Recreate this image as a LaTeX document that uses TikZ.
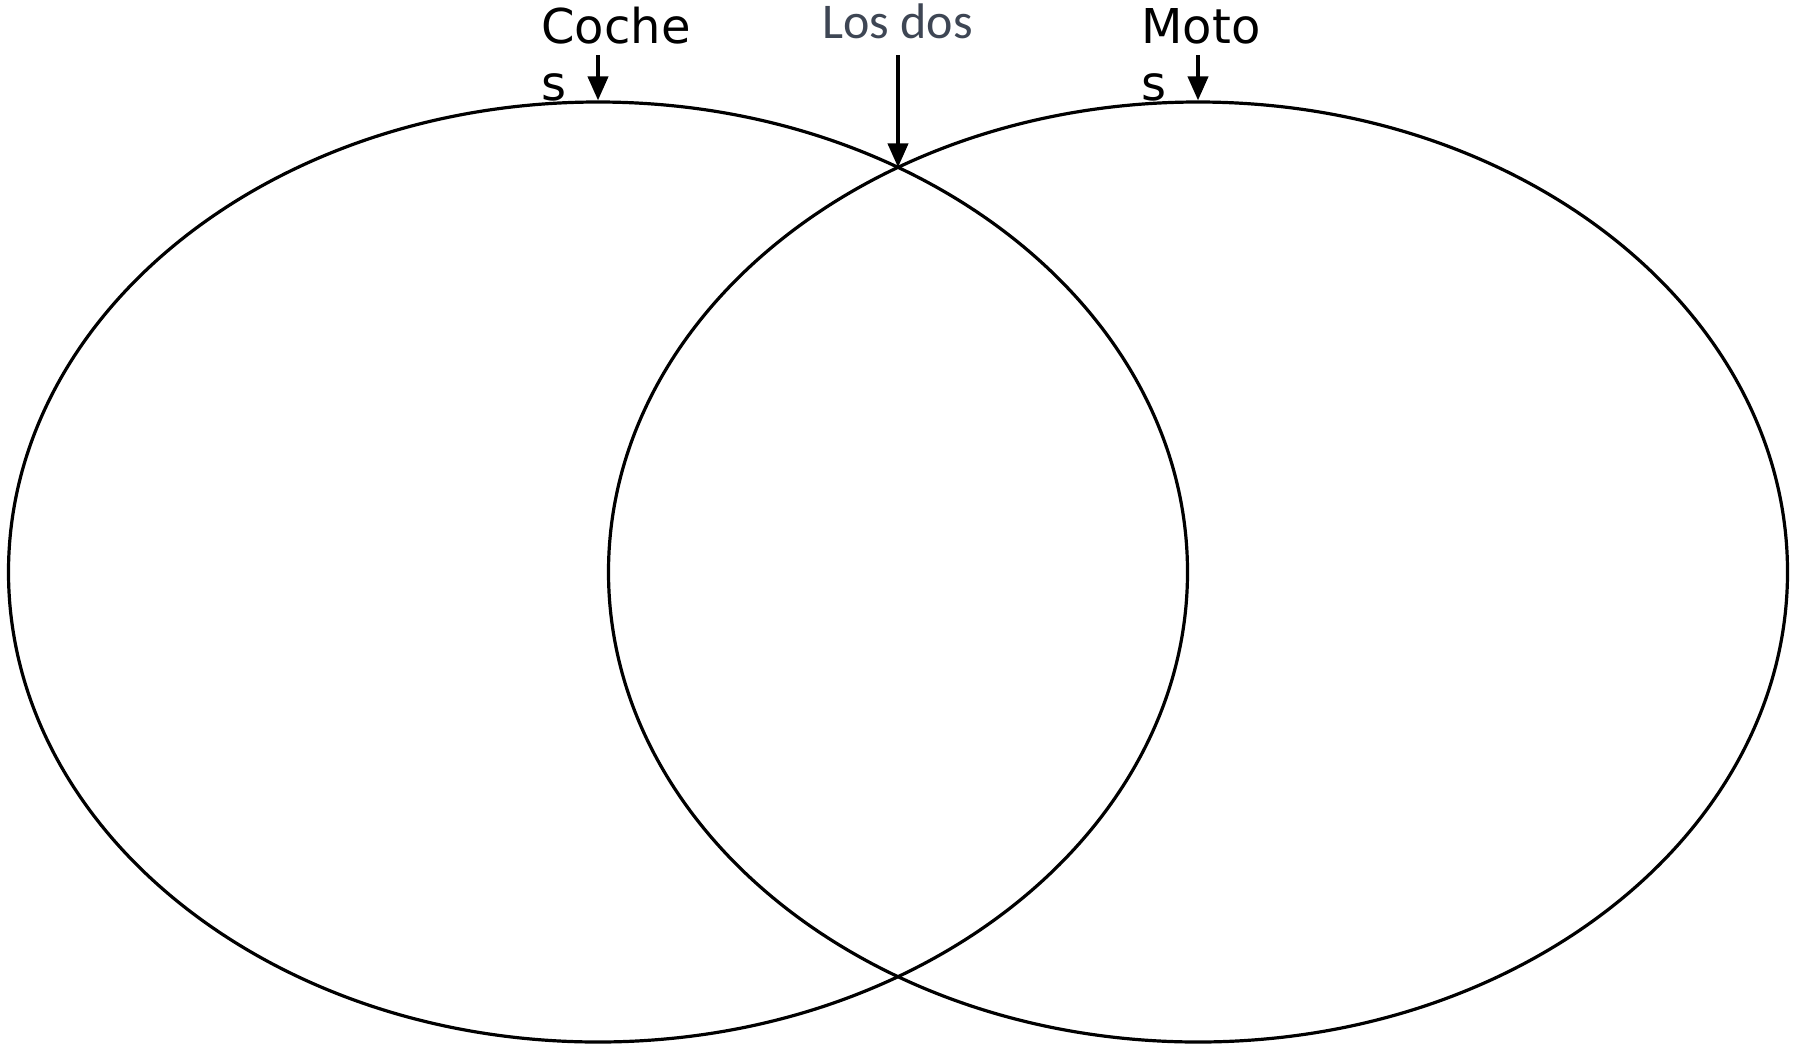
\documentclass[tikz,border=0pt]{standalone}
\usepackage{fontspec}
\newfontfamily\dejavu{DejaVu Sans}
\newfontfamily\carlito{Carlito}
\usetikzlibrary{arrows.meta,shapes.geometric}
\definecolor{dosgris}{RGB}{62,70,84}

\begin{document}
\begin{tikzpicture}[x=0.5pt,y=-0.5pt,
  conjunto/.style={draw,ellipse,line width=1.6pt,inner sep=0pt,
    minimum width=589.5pt,minimum height=470pt},
  etiqueta/.style={inner sep=0pt,align=left,anchor=base west,
    font=\dejavu\fontsize{24}{28.5}\selectfont},
  flecha/.style={line width=2pt,-{Triangle[length=12pt,width=10pt]}}]
\useasboundingbox[fill=white] (0,0) rectangle (1793,1045);

% los dos conjuntos
\node[conjunto] (coches) at (598,572) {};
\node[conjunto] (motos) at (1198,572) {};

% etiquetas
\node[etiqueta] (tcoches) at (541,100) {Coche\\s};
\node[etiqueta] (tmotos) at (1141,100) {Moto\\s};
\node[inner sep=0pt,anchor=base west,text=dosgris,
  font=\carlito\fontsize{25}{30}\selectfont] (tdos) at (822,38) {Los dos};

% flechas
\coordinate (fcoches) at (598,55);
\coordinate (fmotos) at (1198,55);
\coordinate (fdos) at (898,55);
\coordinate (ambos) at (898,167.4);
\draw[flecha] (fcoches) -- (coches.north);
\draw[flecha] (fmotos) -- (motos.north);
\draw[flecha] (fdos) -- (ambos);
\end{tikzpicture}
\end{document}
